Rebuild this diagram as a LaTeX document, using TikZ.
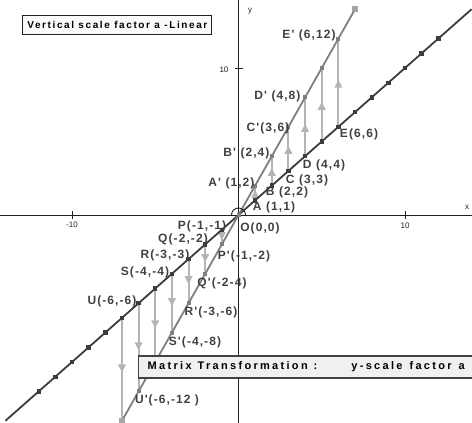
\documentclass[tikz,border=0pt]{standalone}
\usepackage{fontspec}
\setmainfont{Liberation Sans}
\newfontfamily\lblfont[LetterSpace=9]{Liberation Sans Bold}
\newfontfamily\boxafont[LetterSpace=16]{Liberation Sans Bold}
\newfontfamily\boxbfont[LetterSpace=21]{Liberation Sans Bold}
\usetikzlibrary{arrows.meta,decorations.markings}
\definecolor{dline}{HTML}{3C3C3C}
\definecolor{iline}{HTML}{7F7F7F}
\definecolor{vline}{HTML}{B4B4B4}
\definecolor{lbl}{HTML}{404040}
\definecolor{axcol}{HTML}{202020}
\tikzset{
  axisline/.style={draw=axcol, line width=0.9pt},
  tickmark/.style={draw=axcol, line width=0.9pt},
  ticklbl/.style={font=\fontsize{8}{9}\selectfont, text=axcol, inner sep=0pt},
  pointlbl/.style={font=\lblfont\fontsize{12}{13}\selectfont, text=lbl, inner sep=0pt},
  varrow/.style={draw=vline, line width=2pt, postaction={decorate},
    decoration={markings, mark=at position 0.5 with {\arrow[vline,xshift=3pt]{Triangle[length=8pt,width=7.5pt]}}}},
  origline/.style={draw=dline, line width=1.8pt},
  imgline/.style={draw=iline, line width=1.8pt},
  titlebox/.style={draw=axcol, line width=1.1pt, fill=gray!4, font=\boxafont\fontsize{10}{12}\selectfont,
    minimum width=189pt, minimum height=18.6pt, inner sep=0pt},
  infobox/.style={draw=axcol!85, line width=1.4pt, fill=gray!12, font=\boxbfont\fontsize{11}{13}\selectfont,
    text width=322pt, align=left, inner xsep=9pt, minimum height=22pt, inner ysep=0pt, anchor=west}
}
\begin{document}
\begin{tikzpicture}[x=1pt,y=-1pt]
\useasboundingbox (0,0) rectangle (472,423);
% axes
\coordinate (xa) at (0,215);
\coordinate (xb) at (472,215);
\coordinate (ya) at (238.5,0);
\coordinate (yb) at (238.5,423);
\draw[axisline] (xa) -- (xb);
\draw[axisline] (ya) -- (yb);
\coordinate (tx1a) at (72,211); \coordinate (tx1b) at (72,219);
\coordinate (tx2a) at (405,211); \coordinate (tx2b) at (405,219);
\coordinate (ty1a) at (234.5,68); \coordinate (ty1b) at (242.5,68);
\draw[tickmark] (tx1a) -- (tx1b);
\draw[tickmark] (tx2a) -- (tx2b);
\draw[tickmark] (ty1a) -- (ty1b);
\node[ticklbl] (lm10) at (72,225) {-10};
\node[ticklbl] (lp10) at (405,225.5) {10};
\node[ticklbl] (ly10) at (224,69.5) {10};
\node[ticklbl] (lx) at (467,207) {x};
\node[ticklbl] (lyy) at (250,11) {y};
% math part
\begin{scope}[shift={(238.5pt,-215pt)},x=16.65pt,y=14.7pt]
  \coordinate (O) at (0,0);
  \coordinate (L1s) at (-14,-14);
  \coordinate (L1e) at (14,14);
  \coordinate (L2s) at (-7,-14);
  \coordinate (L2e) at (7,14);
  \foreach \k in {1,...,6} {
    \coordinate (p\k) at (\k,\k);
    \coordinate (q\k) at (\k,2*\k);
    \draw[varrow] (p\k) -- (q\k);
  }
  \foreach \k in {1,...,7} {
    \coordinate (n\k) at (-\k,-\k);
    \coordinate (m\k) at (-\k,-2*\k);
    \draw[varrow] (n\k) -- (m\k);
  }
  \draw[origline] (L1s) -- (L1e);
  \draw[imgline] (L2s) -- (L2e);
  \foreach \k in {-12,...,-1,1,2,...,12} {
    \fill[dline] (\k,\k) +(-2.2pt,-2.2pt) rectangle +(2.2pt,2.2pt);
  }
  \foreach \k in {-6,...,6} {
    \fill[iline] (\k,2*\k) +(-2pt,-2pt) rectangle +(2pt,2pt);
  }
  \fill[iline!70] (L2e) +(-3pt,-3pt) rectangle +(3pt,3pt);
  \fill[iline!70] (L2s) +(-3pt,-3pt) rectangle +(3pt,3pt);
  \draw[axcol, line width=0.9pt] (O) ++(7pt,0) arc (0:180:7pt);
\end{scope}
% labels
\node[pointlbl] (lEp) at (309,35) {E' (6,12)};
\node[pointlbl] (lDp) at (277.5,96) {D' (4,8)};
\node[pointlbl] (lCp) at (268,128) {C'(3,6)};
\node[pointlbl] (lBp) at (246.5,153) {B' (2,4)};
\node[pointlbl] (lAp) at (231.5,183) {A' (1,2)};
\node[pointlbl] (lE) at (359,134.5) {E(6,6)};
\node[pointlbl] (lD) at (324,165) {D (4,4)};
\node[pointlbl] (lC) at (307,180) {C (3,3)};
\node[pointlbl] (lB) at (287,192) {B (2,2)};
\node[pointlbl] (lA) at (274,207) {A (1,1)};
\node[pointlbl] (lO) at (260,228) {O(0,0)};
\node[pointlbl] (lP) at (202,226) {P(-1,-1)};
\node[pointlbl] (lQ) at (183,239) {Q(-2,-2)};
\node[pointlbl] (lR) at (165,255) {R(-3,-3)};
\node[pointlbl] (lS) at (145,272) {S(-4,-4)};
\node[pointlbl] (lU) at (112,301) {U(-6,-6)};
\node[pointlbl] (lPp) at (244,256) {P'(-1,-2)};
\node[pointlbl] (lQp) at (222,283) {Q'(-2-4)};
\node[pointlbl] (lRp) at (211,312) {R'(-3,-6)};
\node[pointlbl] (lSp) at (195,342) {S'(-4,-8)};
\node[pointlbl] (lUp) at (167,400) {U'(-6,-12 )};
% boxes
\node[titlebox] (title) at (117.35,25) {Vertical scale factor a -Linear};
\node[infobox] (info) at (138,367) {Matrix\hspace{6pt}Transformation\hspace{6pt}:\hspace{34pt}y-scale\hspace{7pt}factor\hspace{7pt}a};
\end{tikzpicture}
\end{document}
